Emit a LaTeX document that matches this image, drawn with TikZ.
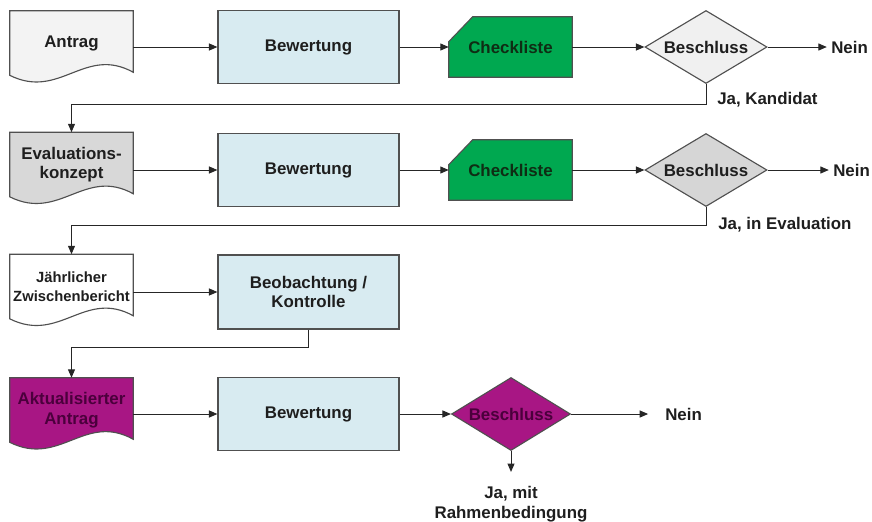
\documentclass[tikz,border=0pt]{standalone}
\usepackage{fontspec}
\setmainfont{Liberation Sans}
\usetikzlibrary{arrows.meta,shapes.geometric,calc,backgrounds}
\definecolor{boxblue}{RGB}{216,235,241}
\definecolor{linegray}{RGB}{80,80,80}
\definecolor{textdark}{RGB}{30,30,30}
\definecolor{docwhite}{RGB}{255,255,255}
\definecolor{doclight}{RGB}{243,243,243}
\definecolor{docgray}{RGB}{216,216,216}
\definecolor{declight}{RGB}{240,240,240}
\definecolor{decgray}{RGB}{214,214,214}
\definecolor{checkgreen}{RGB}{0,168,80}
\definecolor{checktext}{RGB}{15,45,20}
\definecolor{magenta}{RGB}{168,22,132}
\definecolor{magtext}{RGB}{75,0,60}

\tikzset{
  base/.style={font=\fontsize{12}{14}\selectfont\bfseries, text=textdark, align=center, inner sep=0pt},
  box/.style={base, draw=linegray, line width=0.8pt, fill=boxblue, minimum width=4.525cm, minimum height=1.825cm},
  docnode/.style={base, minimum width=3.075cm, minimum height=1.6cm},
  checknode/.style={base, text=checktext, minimum width=3.075cm, minimum height=1.5cm},
  decision/.style={base, diamond, aspect=1.67, draw=linegray, line width=0.8pt, minimum width=3.05cm, minimum height=1.825cm},
  lbl/.style={base, anchor=west},
  arr/.style={-{Triangle[length=6pt,width=5pt]}, line width=0.7pt, draw=black!85},
}

% document shape with wavy bottom, drawn behind the named node
\newcommand{\docshape}[2]{%
  \filldraw[draw=linegray, line width=0.8pt, fill=#2] (#1.north west) -- (#1.north east)
    -- ($(#1.south east)+(0,-3)$)
    .. controls ($(#1.south west)+(75,-30)$) and ($(#1.south west)+(50,25)$) .. (#1.south west) -- cycle;}
% checklist shape with cut corner
\newcommand{\checkshape}[1]{%
  \filldraw[draw=linegray, line width=0.8pt, fill=checkgreen] (#1.south west) -- ($(#1.north west)+(0,25)$)
    -- ($(#1.north west)+(24,0)$) -- (#1.north east) -- (#1.south east) -- cycle;}

\begin{document}
\begin{tikzpicture}[x=0.025cm, y=-0.025cm]
  \useasboundingbox (0,0) rectangle (872,521);

  % Row 1: Antrag
  \node[docnode] (antrag) at (71.5,43) {Antrag};
  \node[box] (bew1) at (308.5,47) {Bewertung};
  \node[checknode] (check1) at (510.5,47) {Checkliste};
  \node[decision, fill=declight] (dec1) at (706,47) {Beschluss};
  \node[lbl] (nein1) at (831,47) {Nein};
  \node[lbl] (ja1) at (717,100) {Ja, Kandidat};

  % Row 2: Evaluationskonzept
  \node[docnode] (konzept) at (71.5,164.5) {Evaluations-\\konzept};
  \node[box] (bew2) at (308.5,170) {Bewertung};
  \node[checknode] (check2) at (510.5,170) {Checkliste};
  \node[decision, fill=decgray] (dec2) at (706,170) {Beschluss};
  \node[lbl] (nein2) at (833,170) {Nein};
  \node[lbl] (ja2) at (718,225) {Ja, in Evaluation};

  % Row 3: Zwischenbericht
  \node[docnode, font=\fontsize{10.5}{13.5}\selectfont\bfseries] (bericht) at (71.5,286.5) {J\"ahrlicher\\Zwischenbericht};
  \node[box, minimum height=1.85cm] (beob) at (308.5,292) {Beobachtung /\\Kontrolle};

  % Row 4: aktualisierter Antrag
  \node[docnode, text=magtext] (aktual) at (71.5,410) {Aktualisierter\\Antrag};
  \node[box] (bew4) at (308.5,414) {Bewertung};
  \node[decision, fill=magenta, text=magtext, minimum width=2.975cm] (dec4) at (511,414) {Beschluss};
  \node[lbl] (nein4) at (665,414) {Nein};
  \node[base, anchor=north] (ja4) at (511,486) {Ja, mit\\Rahmenbedingung};

  % Shapes behind the texts
  \begin{scope}[on background layer]
    \docshape{antrag}{doclight}
    \docshape{konzept}{docgray}
    \docshape{bericht}{docwhite}
    \docshape{aktual}{magenta}
    \checkshape{check1}
    \checkshape{check2}
  \end{scope}

  % Connectors row 1
  \draw[arr] (antrag.east |- bew1.west) -- (bew1.west);
  \draw[arr] (bew1) -- (check1);
  \draw[arr] (check1) -- (dec1);
  \draw[arr, shorten >=3pt] (dec1) -- (nein1);
  \draw[arr] (dec1.south) -- ++(0,20) -| (konzept.north);

  % Connectors row 2
  \draw[arr] (konzept.east |- bew2.west) -- (bew2.west);
  \draw[arr] (bew2) -- (check2);
  \draw[arr] (check2) -- (dec2);
  \draw[arr, shorten >=3pt] (dec2) -- (nein2);
  \draw[arr] (dec2.south) -- ++(0,18) -| (bericht.north);

  % Connectors row 3
  \draw[arr] (bericht.east |- beob.west) -- (beob.west);
  \draw[arr] (beob.south) -- ++(0,18) -| (aktual.north);

  % Connectors row 4
  \draw[arr] (aktual.east |- bew4.west) -- (bew4.west);
  \draw[arr] (bew4) -- (dec4);
  \draw[arr, shorten >=12pt] (dec4) -- (nein4);
  \draw[arr, shorten >=10pt] (dec4.south) -- (ja4.north);
\end{tikzpicture}
\end{document}
